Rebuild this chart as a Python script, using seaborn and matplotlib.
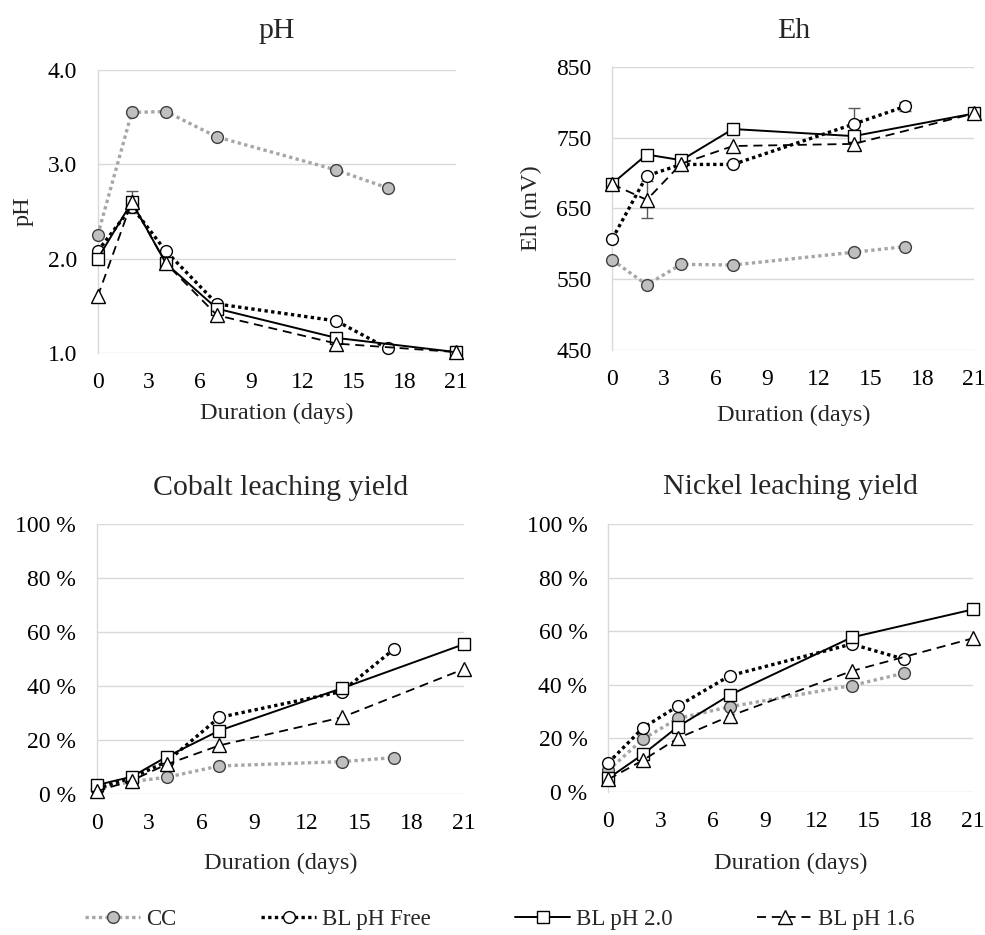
import numpy as np
import pandas as pd
import matplotlib
matplotlib.use("Agg")
import matplotlib.pyplot as plt
from matplotlib.ticker import FuncFormatter, FixedLocator
import seaborn as sns

# ---------------- data ----------------
days_cc = [0, 2, 4, 7, 14, 17]        # CC and BL pH Free
days_bl = [0, 2, 4, 7, 14, 21]        # BL pH 2.0 and BL pH 1.6

series_names = ["CC", "BL pH Free", "BL pH 2.0", "BL pH 1.6"]

ph_cc = [2.25, 3.55, 3.56, 3.29, 2.94, 2.75]
ph_free = [2.08, 2.55, 2.08, 1.52, 1.34, 1.05]
ph_20 = [2.00, 2.60, 1.95, 1.47, 1.16, 1.01]
ph_16 = [1.60, 2.60, 1.95, 1.40, 1.10, 1.01]

eh_cc = [577, 542, 571, 570, 588, 596]
eh_free = [607, 696, 712, 712, 769, 794]
eh_20 = [685, 726, 718, 762, 752, 784]
eh_16 = [684, 662, 713, 738, 741, 784]

co_cc = [2.0, 4.6, 6.2, 10.4, 12.0, 13.5]
co_free = [2.0, 6.0, 12.0, 28.4, 38.0, 53.8]
co_20 = [3.3, 6.4, 13.8, 23.5, 39.2, 55.6]
co_16 = [1.0, 5.0, 11.0, 18.0, 28.4, 46.4]

ni_cc = [8.0, 19.7, 27.4, 31.8, 39.7, 44.3]
ni_free = [10.8, 23.9, 32.0, 43.4, 55.2, 49.6]
ni_20 = [5.0, 14.0, 24.3, 36.2, 57.7, 68.2]
ni_16 = [4.6, 11.8, 20.0, 28.3, 45.1, 57.4]

# error bars (day, value, error)
ph_err_days = [2]
ph_err_vals = [2.60]
ph_err = [0.12]
eh_err_days = [2, 14, 17, 14]
eh_err_vals = [662, 769, 794, 741]
eh_err = [26, 22, 6, 8]

titles = ["pH", "Eh", "Cobalt leaching yield", "Nickel leaching yield"]
ylabels = ["pH", "Eh (mV)", "", ""]
xlabel = "Duration (days)"
xticks = [0, 3, 6, 9, 12, 15, 18, 21]
ph_ticks = [1.0, 2.0, 3.0, 4.0]
eh_ticks = [450, 550, 650, 750, 850]
pct_ticks = [0, 20, 40, 60, 80, 100]

# ---------------- style ----------------
sns.set_theme(style="white")
plt.rcParams["font.family"] = ["Liberation Serif", "DejaVu Serif"]
plt.rcParams["axes.unicode_minus"] = False

styles = {
    "CC": dict(color="#A6A6A6", linestyle=(0, (1.0, 1.0)), linewidth=2.4,
               marker="o", markersize=8.5, markerfacecolor="#BFBFBF",
               markeredgecolor="#404040", markeredgewidth=1.0),
    "BL pH Free": dict(color="black", linestyle=(0, (1.0, 1.0)), linewidth=2.4,
                       marker="o", markersize=8.5, markerfacecolor="white",
                       markeredgecolor="black", markeredgewidth=1.0),
    "BL pH 2.0": dict(color="black", linestyle="-", linewidth=1.4,
                      marker="s", markersize=8.5, markerfacecolor="white",
                      markeredgecolor="black", markeredgewidth=1.0),
    "BL pH 1.6": dict(color="black", linestyle=(0, (5.0, 3.2)), linewidth=1.3,
                      marker="^", markersize=9.5, markerfacecolor="white",
                      markeredgecolor="black", markeredgewidth=1.0),
}

fig = plt.figure(figsize=(9.85, 9.35), dpi=100)
W, H = 985.0, 935.0


def box(l, t, r, b):
    return [l / W, 1 - b / H, (r - l) / W, (b - t) / H]


axes = [
    fig.add_axes(box(97.7, 70.0, 455.7, 353.0)),
    fig.add_axes(box(612.3, 66.7, 974.3, 350.0)),
    fig.add_axes(box(96.7, 524.3, 464.3, 794.0)),
    fig.add_axes(box(608.3, 524.3, 973.3, 791.7)),
]

panel_data = [
    (ph_cc, ph_free, ph_20, ph_16),
    (eh_cc, eh_free, eh_20, eh_16),
    (co_cc, co_free, co_20, co_16),
    (ni_cc, ni_free, ni_20, ni_16),
]
ylims = [(1.0, 4.0), (450, 850), (0, 100), (0, 100)]
yticks = [ph_ticks, eh_ticks, pct_ticks, pct_ticks]
title_pads = [23, 21, 21, 22]
xlabel_pads = [7, 10, 13, 15]

for i, ax in enumerate(axes):
    cc, free, p20, p16 = panel_data[i]
    vals = [cc, free, p20, p16]
    xs = [days_cc, days_cc, days_bl, days_bl]
    for name, x, y in zip(series_names, xs, vals):
        df = pd.DataFrame({"day": x, "val": y})
        sns.lineplot(data=df, x="day", y="val", ax=ax, label=name,
                     clip_on=False, zorder=3, **styles[name])
    if i == 0:
        ax.errorbar(ph_err_days, ph_err_vals, yerr=ph_err, fmt="none",
                    ecolor="#595959", elinewidth=1.0, capsize=4, zorder=2,
                    clip_on=False)
    if i == 1:
        ax.errorbar(eh_err_days, eh_err_vals, yerr=eh_err, fmt="none",
                    ecolor="#595959", elinewidth=1.0, capsize=4, zorder=2,
                    clip_on=False)

    ax.set_xlim(0, 21)
    ax.set_ylim(*ylims[i])
    ax.xaxis.set_major_locator(FixedLocator(xticks))
    ax.yaxis.set_major_locator(FixedLocator(yticks[i]))
    if i == 0:
        ax.yaxis.set_major_formatter(FuncFormatter(lambda v, p: f"{v:.1f}"))
    elif i == 1:
        ax.yaxis.set_major_formatter(FuncFormatter(lambda v, p: f"{v:.0f}"))
    else:
        ax.yaxis.set_major_formatter(FuncFormatter(lambda v, p: f"{v:.0f} %"))

    ax.grid(axis="y", color="#D9D9D9", linewidth=1.0)
    ax.grid(axis="x", visible=False)
    ax.set_axisbelow(True)
    for s in ["top", "right", "bottom"]:
        ax.spines[s].set_visible(False)
    ax.spines["left"].set_color("#D9D9D9")
    ax.spines["left"].set_linewidth(1.0)
    ax.tick_params(axis="both", length=0, labelsize=17, colors="black")
    ax.tick_params(axis="x", pad=14)
    ax.tick_params(axis="y", pad=15)

    ax.set_title(titles[i], fontsize=21.5, pad=title_pads[i])
    ax.set_xlabel(xlabel, fontsize=17.5, labelpad=xlabel_pads[i])
    ax.set_ylabel(ylabels[i], fontsize=17.5, labelpad=10)
    leg = ax.get_legend()
    if leg is not None:
        leg.remove()

handles, labels = axes[0].get_legend_handles_labels()
fig.legend(handles[:4], labels[:4], loc="center", ncol=4,
           bbox_to_anchor=(500 / W, 1 - 919 / H), frameon=False,
           fontsize=16.5, handlelength=2.4, handletextpad=0.25,
           columnspacing=3.7, numpoints=1)

fig.savefig("out.png", dpi=100)
